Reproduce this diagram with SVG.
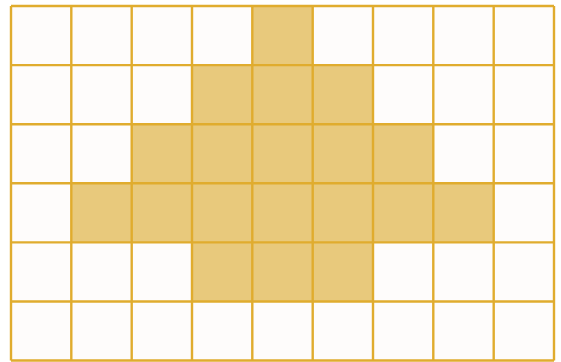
<svg xmlns="http://www.w3.org/2000/svg" width="561" height="362" viewBox="0 0 561 362">
<style>
.c{fill:#e8c97c;stroke:none}
.g{stroke:#e0ac2e;stroke-width:2.4;fill:none}
</style>
<rect width="561" height="362" fill="#ffffff"/>
<rect x="11" y="6" width="543" height="354.5" fill="#fefcfb"/>
<g id="shaded">
<rect class="c" x="252.3" y="6" width="60.3" height="59.1"/>
<rect class="c" x="192" y="65.1" width="181" height="59.1"/>
<rect class="c" x="131.7" y="124.2" width="301.6" height="59.1"/>
<rect class="c" x="71.3" y="183.3" width="422.3" height="59.1"/>
<rect class="c" x="192" y="242.4" width="181" height="59.1"/>
</g>
<g id="grid" class="g">
<path d="M11 6V360.5M71.3 6V360.5M131.7 6V360.5M192 6V360.5M252.3 6V360.5M312.7 6V360.5M373 6V360.5M433.3 6V360.5M493.7 6V360.5M554 6V360.5"/>
<path d="M11 6H554M11 65.1H554M11 124.2H554M11 183.3H554M11 242.4H554M11 301.5H554M11 360.5H554"/>
</g>
</svg>
